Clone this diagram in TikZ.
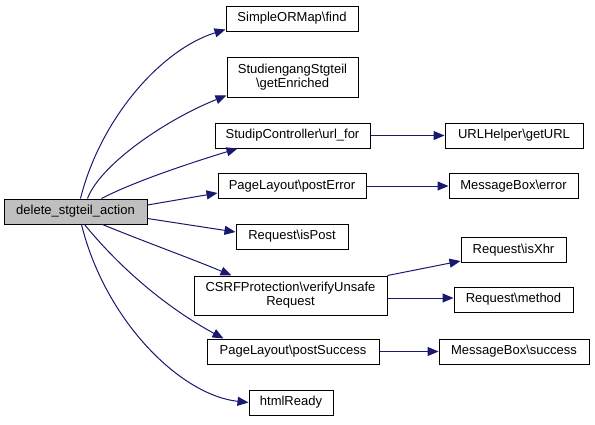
\documentclass[tikz,border=0pt]{standalone}
\usepackage{fontspec}
\setmainfont{Liberation Sans}
\usetikzlibrary{arrows.meta}
\definecolor{edgeblue}{HTML}{191970}
\definecolor{maingray}{HTML}{BFBFBF}
\begin{document}
\begin{tikzpicture}[x=1pt,y=-1pt,
  fn/.style={draw=black,line width=1pt,fill=white,inner sep=0pt,align=center,
    font=\fontsize{13}{14}\selectfont},
  call/.style={draw=edgeblue,line width=1pt,-{Triangle[length=11pt,width=9pt]},fill=none,
    every arrow/.append style={fill=edgeblue}}]
\useasboundingbox[fill=white] (0,0) rectangle (595,424);
% nodes
\node[fn,fill=maingray,minimum width=143pt,minimum height=25pt] (main) at (75.5,211.5) {delete\_stgteil\_action};
\node[fn,minimum width=132pt,minimum height=25pt] (find) at (292,18.5) {SimpleORMap\textbackslash find};
\node[fn,minimum width=131pt,minimum height=40pt] (enr) at (292.5,77) {StudiengangStgteil\\\textbackslash getEnriched};
\node[fn,minimum width=155pt,minimum height=25pt] (url) at (292.5,135.5) {StudipController\textbackslash url\_for};
\node[fn,minimum width=148pt,minimum height=25pt] (perr) at (292,186) {PageLayout\textbackslash postError};
\node[fn,minimum width=112pt,minimum height=25pt] (ispost) at (292,236.5) {Request\textbackslash isPost};
\node[fn,minimum width=193pt,minimum height=39pt] (csrf) at (290.5,295.5) {CSRFProtection\textbackslash verifyUnsafe\\Request};
\node[fn,minimum width=172pt,minimum height=25pt] (psucc) at (293,351.5) {PageLayout\textbackslash postSuccess};
\node[fn,minimum width=84pt,minimum height=25pt] (html) at (291,402.5) {htmlReady};
\node[fn,minimum width=138pt,minimum height=25pt] (geturl) at (514,135.5) {URLHelper\textbackslash getURL};
\node[fn,minimum width=129pt,minimum height=25pt] (merr) at (513.5,186) {MessageBox\textbackslash error};
\node[fn,minimum width=105pt,minimum height=25pt] (isxhr) at (513.5,250) {Request\textbackslash isXhr};
\node[fn,minimum width=119pt,minimum height=25pt] (method) at (513.5,299.5) {Request\textbackslash method};
\node[fn,minimum width=150pt,minimum height=25pt] (msucc) at (514,351.5) {MessageBox\textbackslash success};
% edges from main
\draw[call] ([xshift=77pt]main.north west) .. controls (100,120) and (160,50) .. ([yshift=2pt]find.south west);
\draw[call] ([xshift=84pt]main.north west) .. controls (100,165) and (165,120) .. ([yshift=2pt]enr.south west);
\draw[call] ([xshift=98pt]main.north west) .. controls (137,180) and (200,160) .. ([xshift=23pt]url.south west);
\draw[call] ([yshift=6.5pt]main.east) -- ([yshift=-7pt]perr.west);
\draw[call] ([yshift=-7pt]main.east) -- ([yshift=4.5pt]ispost.west);
\draw[call] ([xshift=99pt]main.south west) .. controls (140,240) and (195,260) .. ([xshift=38pt]csrf.north west);
\draw[call] ([xshift=81pt]main.south west) .. controls (130,280) and (180,315) .. ([xshift=17pt]psucc.north west);
\draw[call] ([xshift=78pt]main.south west) .. controls (105,320) and (180,395) .. (html.west);
% second level
\draw[call] (url.east) -- (geturl.west);
\draw[call] (perr.east) -- (merr.west);
\draw[call] (csrf.north east) -- ([yshift=2pt]isxhr.south west);
\draw[call] ([yshift=-2.5pt]csrf.east) -- ([yshift=1.5pt]method.west);
\draw[call] (psucc.east) -- (msucc.west);
\end{tikzpicture}
\end{document}
